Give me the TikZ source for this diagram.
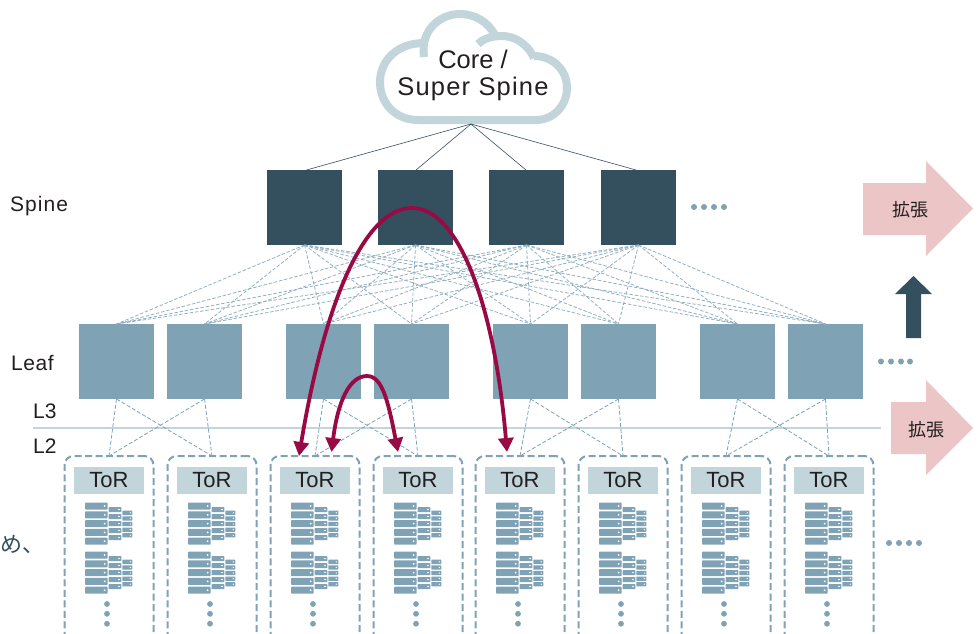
\documentclass[tikz,border=0pt]{standalone}
\usepackage{fontspec}
\setmainfont{Liberation Sans}
\newfontfamily\jpfont{Noto Sans CJK JP}
\usetikzlibrary{arrows.meta,positioning}
\definecolor{spinedark}{HTML}{34505F}
\definecolor{leafblue}{HTML}{7FA2B5}
\definecolor{torpale}{HTML}{C2D5DA}
\definecolor{growpink}{HTML}{ECC6C6}
\definecolor{hopred}{HTML}{990A45}
\definecolor{inktext}{HTML}{231F20}
\tikzset{
  spinebox/.style={rectangle, fill=spinedark, minimum size=75pt, inner sep=0pt, outer sep=0pt},
  leafbox/.style={rectangle, fill=leafblue, minimum size=75pt, inner sep=0pt, outer sep=0pt},
  torgroup/.style={rectangle, draw=leafblue, line width=2pt, dash pattern=on 7pt off 3.5pt, rounded corners=9pt, minimum width=89pt, minimum height=230pt, inner sep=0pt, outer sep=0pt, anchor=north},
  torlabel/.style={rectangle, fill=torpale, text=inktext, minimum width=70pt, minimum height=27pt, inner sep=0pt, outer sep=0pt, font=\fontsize{22}{24}\selectfont},
  tierlabel/.style={anchor=west, inner sep=0pt, text=inktext, font=\fontsize{21}{24}\selectfont},
  growlabel/.style={inner sep=0pt, text=inktext, font=\jpfont\fontsize{18}{20}\selectfont},
  uplink/.style={draw=spinedark, line width=0.6pt},
  meshlink/.style={draw=leafblue!85, line width=0.8pt, dash pattern=on 3.5pt off 1.8pt},
  torlink/.style={draw=leafblue, line width=0.8pt, dash pattern=on 4pt off 2pt},
  hoparrow/.style={draw=hopred, line width=3.8pt, >={Triangle[length=14pt,width=15pt]}, <->},
  serverstack/.pic={
    \foreach \n in {0,...,4} {
      \fill[leafblue, rounded corners=0.8pt] (-24,\n*8.8) rectangle (-1.3,\n*8.8+7);
      \fill[white] (-4.3,\n*8.8+3.5) circle (1);
    }
    \foreach \n in {0,...,4} {
      \fill[leafblue, rounded corners=0.6pt] (-0.3,4.5+\n*7) rectangle (12.3,9.6+\n*7);
      \fill[white] (10,7+\n*7) circle (0.8);
    }
    \foreach \n in {0,...,4} {
      \fill[leafblue, rounded corners=0.5pt] (13.3,8.2+\n*5.6) rectangle (23.3,12.5+\n*5.6);
      \fill[white] (21.3,10.3+\n*5.6) circle (0.7);
    }
  }
}

\begin{document}
\begin{tikzpicture}[x=1pt,y=-1pt]

\path[use as bounding box, clip] (0,0) rectangle (980,633);

% core
\draw[torpale, line width=8pt] (424,43) .. controls (398,43) and (380,60) .. (380,82) .. controls (380,104) and (396,120) .. (418,120) -- (536,120) .. controls (554,120) and (567,105) .. (567,88) .. controls (567,70) and (553,56) .. (534,56);
\draw[torpale, line width=8pt] (534,58) .. controls (527,43) and (514,36) .. (502,36) .. controls (491,36) and (483,39) .. (478,44);
\draw[torpale, line width=8pt] (424,57) .. controls (420,30) and (440,14) .. (460,14) .. controls (475,14) and (488,22) .. (495,35);
\node[inner sep=0pt, text=inktext, align=center, font=\fontsize{25.5}{27}\selectfont] (core) at (473,75) {Core /\\\addfontfeature{LetterSpace=4.7}Super Spine};
\coordinate (corefoot) at (471,124);

% spine
\node[spinebox] (spine1) at (304.5,207.5) {};
\node[spinebox, right=36pt of spine1] (spine2) {};
\node[spinebox, right=36pt of spine2] (spine3) {};
\node[spinebox, right=37pt of spine3] (spine4) {};

% leaf
\node[leafbox] (leaf1) at (116.5,361.5) {};
\node[leafbox, right=13pt of leaf1] (leaf2) {};
\node[leafbox, right=44pt of leaf2] (leaf3) {};
\node[leafbox, right=13pt of leaf3] (leaf4) {};
\node[leafbox, right=44pt of leaf4] (leaf5) {};
\node[leafbox, right=13pt of leaf5] (leaf6) {};
\node[leafbox, right=44pt of leaf6] (leaf7) {};
\node[leafbox, right=13pt of leaf7] (leaf8) {};

% tor
\foreach \i/\x in {1/109,2/212,3/315,4/418,5/520,6/623,7/726,8/829} {
  \node[torgroup] (group\i) at (\x,456) {};
  \node[torlabel, below=11pt of group\i.north] (tor\i) {ToR};
  \pic at (\x,502.5) {serverstack};
  \pic at (\x,551.5) {serverstack};
  \foreach \y in {604,613.8,623.7}
    \fill[leafblue] (\x-2,\y) circle (2.9);
}

% tier labels
\node[tierlabel] (spinetier) at (10,206.5) {\addfontfeature{LetterSpace=5}Spine};
\node[tierlabel] (leaftier) at (11,363) {\addfontfeature{LetterSpace=2.5}Leaf};
\node[tierlabel] (lthree) at (33,411) {L3};
\node[tierlabel] (ltwo) at (33,446) {L2};
\node[inner sep=0pt, anchor=west, text=spinedark, font=\jpfont\fontsize{22}{26}\selectfont] (cuttext) at (0,545) {め、};

% boundary
\coordinate (boundaryleft) at (33,428);
\coordinate (boundaryright) at (881,428);
\draw[torpale, line width=2pt] (boundaryleft) -- (boundaryright);

% links
\foreach \s/\d in {1/2,2/0.5,3/-0.5,4/-2.5}
  \draw[uplink] (corefoot) -- ([xshift=\d pt]spine\s.north);
\foreach \s in {1,...,4}
  \foreach \l in {1,...,8}
    \draw[meshlink] (spine\s.south) -- (leaf\l.north);
\foreach \a/\b in {1/2,3/4,5/6,7/8} {
  \draw[torlink] (leaf\a.south) -- (group\a.north);
  \draw[torlink] (leaf\a.south) -- (group\b.north);
  \draw[torlink] (leaf\b.south) -- (group\a.north);
  \draw[torlink] (leaf\b.south) -- (group\b.north);
}

% ellipses
\foreach \x in {694,704,714,724}
  \fill[leafblue] (\x,207) circle (3);
\foreach \x in {881,891,901,910}
  \fill[leafblue] (\x,361.5) circle (3);
\foreach \x in {889,899,909,919}
  \fill[leafblue] (\x,543) circle (3);

% growth arrows
\fill[growpink] (863,183) -- (926,183) -- (926,161) -- (973,208.5) -- (926,256) -- (926,235) -- (863,235) -- cycle;
\node[growlabel] (growspine) at (910,210) {拡張};
\fill[growpink] (891,402) -- (926,402) -- (926,380) -- (973,428) -- (926,475) -- (926,454) -- (891,454) -- cycle;
\node[growlabel] (growleaf) at (926.5,430) {拡張};
\fill[spinedark] (906,338) -- (906,294) -- (895,294) -- (913.5,276) -- (932,294) -- (921,294) -- (921,338) -- cycle;

% hops
\coordinate (hopleft) at (299,456);
\coordinate (hopmid) at (331.5,452);
\coordinate (hopnear) at (398,452);
\coordinate (hopfar) at (507,452);
\draw[hoparrow] (hopleft) .. controls (325,300) and (365,208) .. (412,208) .. controls (460,208) and (495,310) .. (hopfar);
\draw[hoparrow] (hopmid) .. controls (338,400) and (350,376) .. (367,376) .. controls (382,376) and (388,400) .. (hopnear);

\end{tikzpicture}
\end{document}
